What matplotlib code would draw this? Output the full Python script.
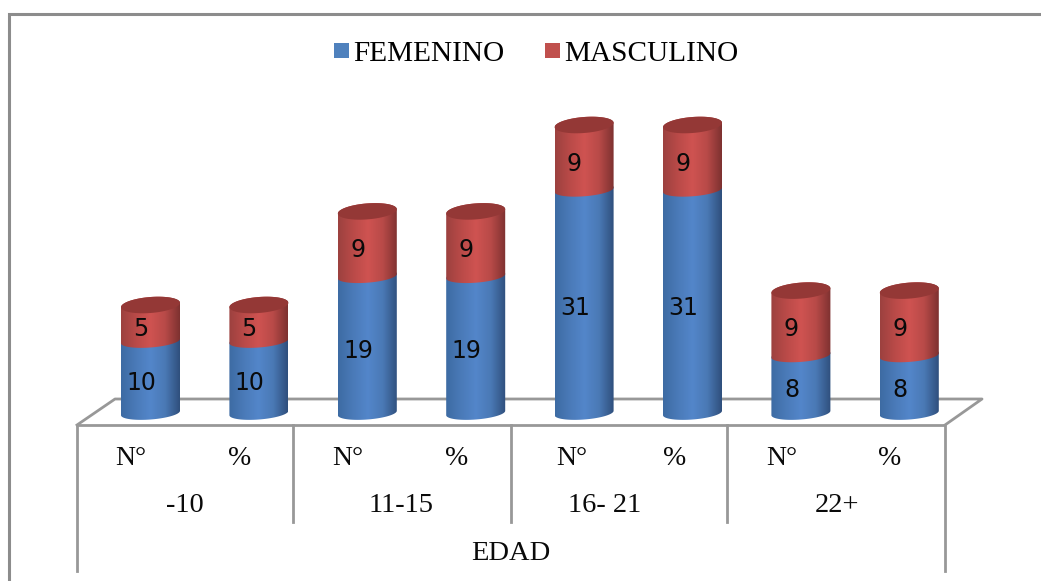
import matplotlib
matplotlib.use("Agg")
import matplotlib.pyplot as plt
from matplotlib.colors import LinearSegmentedColormap
from matplotlib.patches import Patch, Polygon
import numpy as np

# chart data
series_names = ["FEMENINO", "MASCULINO"]
femenino = [10, 10, 19, 19, 31, 31, 8, 8]
masculino = [5, 5, 9, 9, 9, 9, 9, 9]
sub_labels = ["N°", "%", "N°", "%", "N°", "%", "N°", "%"]
group_labels = ["-10", "11-15", "16- 21", "22+"]
axis_title = "EDAD"

W, H = 1041, 581
step_px = 108.4    # distance between cylinders
unit_px = 7.2      # pixels per value unit
x0_px = 150.5
y0_px = 413
bar_w = 59 / step_px
rim_h = 6.5 / unit_px
cap_h = 8 / unit_px
tilt = 2.2 / unit_px
sub_dx = [-14, -14, -14, -14, -9, -13, -14, -14]   # N°/% sideways offset, in points

blue_grad = LinearSegmentedColormap.from_list("b", ["#3d6ba3", "#4a7ab8", "#5386ca", "#4a79b5", "#2f4f7c"])
red_grad = LinearSegmentedColormap.from_list("r", ["#9c413f", "#b94a48", "#cf5351", "#b84a48", "#7d3130"])
cap_red = "#943836"
line_gray = "#989898"
frame_gray = "#8c8c8c"
serif = "Liberation Serif"

fig = plt.figure(figsize=(W / 100, H / 100), dpi=100)

# pixel-based layer for the frame, floor and category table
deco = fig.add_axes([0, 0, 1, 1], zorder=1)
deco.set_xlim(0, W)
deco.set_ylim(H, 0)
deco.axis("off")

deco.plot([8.5, 8.5, W], [H, 13.5, 13.5], color=frame_gray, lw=2.2, solid_joinstyle="miter")
deco.plot([77, 77, 945, 945], [571, 425, 425, 571], color=line_gray, lw=2)
deco.plot([77, 115, 982, 945], [425, 399, 399, 425], color=line_gray, lw=2)
for x in [293, 511, 727]:
    deco.plot([x, x], [425, 522], color=line_gray, lw=2)

# main layer: position on x, value on y
ax = fig.add_axes([0, 0, 1, 1], zorder=2)
ax.patch.set_alpha(0)
ax.axis("off")


def arc(x, y, start, stop, h=rim_h):
    t = np.linspace(start, stop, 60)
    return np.column_stack([x + bar_w / 2 * np.cos(t), y + h * np.sin(t) + tilt * np.cos(t)])


def cylinder(x, bottom, top, cmap):
    # front of the lower rim plus back of the upper rim gives the side outline
    outline = np.vstack([arc(x, bottom, np.pi, 2 * np.pi), arc(x, top, 0, np.pi, cap_h)])
    poly = Polygon(outline, closed=True, transform=ax.transData)
    grad = cmap(np.linspace(0, 1, 256))[np.newaxis, :, :]
    im = ax.imshow(grad, extent=[x - bar_w / 2, x + bar_w / 2, bottom - 2, top + 2],
                   aspect="auto", interpolation="bilinear", zorder=3)
    im.set_clip_path(poly)


for i, (f, m) in enumerate(zip(femenino, masculino)):
    cylinder(i, 0, f, blue_grad)
    cylinder(i, f, f + m, red_grad)
    ax.add_patch(Polygon(arc(i, f + m, 0, 2 * np.pi, cap_h), closed=True, fc=cap_red, ec="none", zorder=4))
    # value labels sit a little left of and below the segment centre
    ax.annotate(str(f), (i, f / 2), xytext=(-6.5, -4.5), textcoords="offset points",
                ha="center", va="center", fontsize=17, color="#0a0a0a", zorder=5)
    ax.annotate(str(m), (i, f + m / 2), xytext=(-7, -4.5), textcoords="offset points",
                ha="center", va="center", fontsize=17, color="#0a0a0a", zorder=5)
    # N° / % row
    ax.annotate(sub_labels[i], (i, 0), xytext=(sub_dx[i], -32.5), textcoords="offset points",
                ha="center", va="center", fontsize=20, family=serif, color="#0a0a0a")

ax.set_xlim(-x0_px / step_px, (W - x0_px) / step_px)
ax.set_ylim((y0_px - H) / unit_px, y0_px / unit_px)

for j, label in enumerate(group_labels):
    deco.text([185, 401, 605, 837][j], 505, label, ha="center", va="center",
              fontsize=20.5, family=serif, color="#0a0a0a")
deco.text(511, 553, axis_title, ha="center", va="center", fontsize=20.5, family=serif, color="#0a0a0a")

handles = [Patch(fc="#4f81bd", ec="none"), Patch(fc="#c0504d", ec="none")]
ax.legend(handles, series_names, loc="center", bbox_to_anchor=(536 / W, 1 - 54 / H), ncol=2,
          frameon=False, prop={"family": serif, "size": 21.1}, handlelength=0.52,
          handleheight=0.45, handletextpad=0.12, columnspacing=1.4, borderpad=0)

fig.savefig("out.png", dpi=100)
